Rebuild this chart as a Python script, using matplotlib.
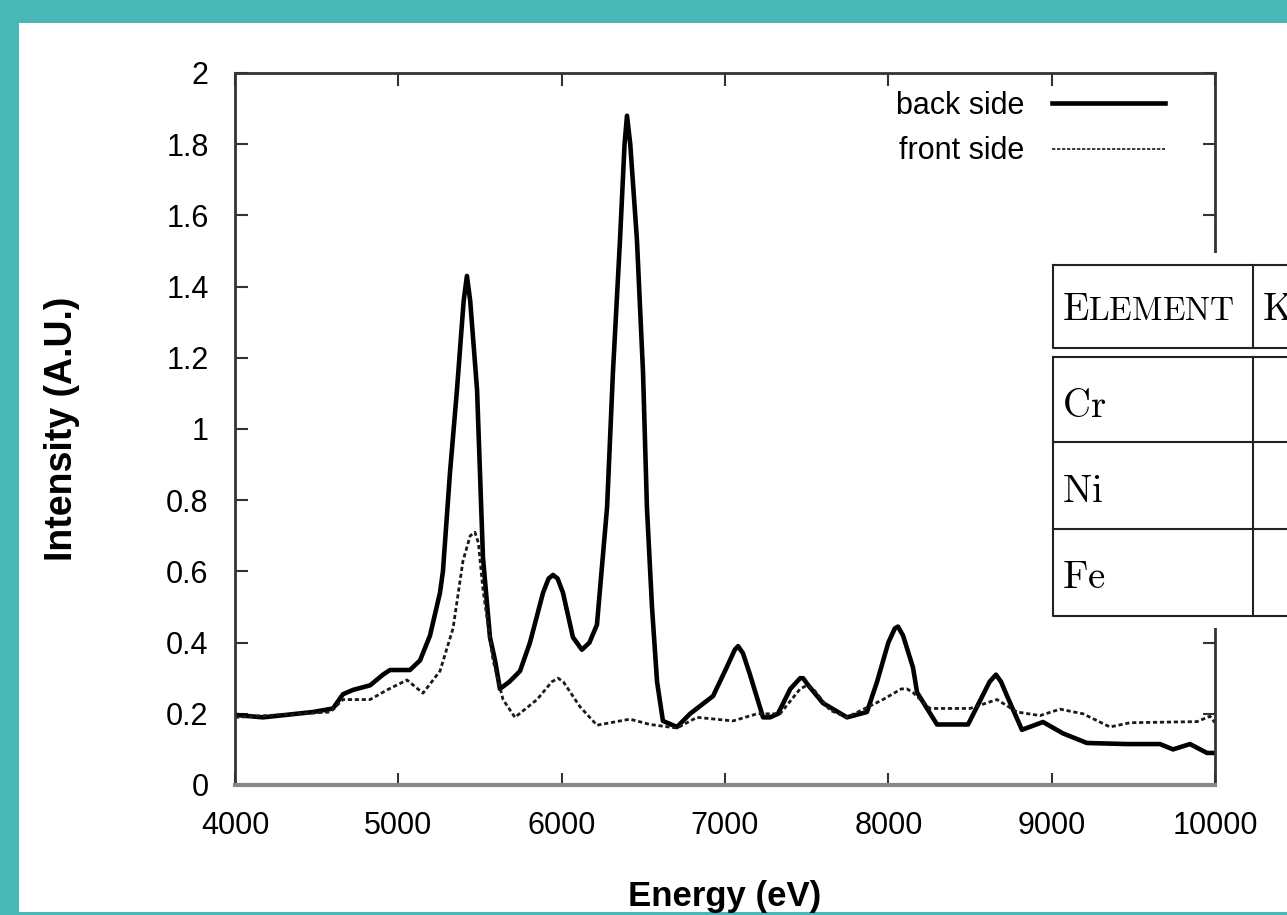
import matplotlib
matplotlib.use('Agg')
import matplotlib.pyplot as plt
from matplotlib.patches import Rectangle

plt.rcParams['font.family'] = ['Liberation Sans', 'DejaVu Sans']
plt.rcParams['mathtext.fontset'] = 'cm'

# back side spectrum
back_energy = [4000, 4171, 4478, 4600, 4661, 4722, 4827, 4906, 4949, 5071, 5133,
               5194, 5255, 5273, 5316, 5359, 5400, 5420, 5440, 5482, 5500, 5518,
               5561, 5592, 5622, 5680, 5745, 5806, 5886, 5920, 5947, 5975, 6008,
               6069, 6124, 6170, 6216, 6278, 6314, 6357, 6385, 6400, 6420, 6461,
               6498, 6522, 6553, 6584, 6620, 6706, 6786, 6927, 7010, 7060, 7080,
               7110, 7153, 7233, 7276, 7324, 7400, 7460, 7478, 7510, 7600, 7747,
               7869, 7931, 8000, 8040, 8059, 8090, 8151, 8176, 8298, 8488, 8543,
               8620, 8659, 8690, 8727, 8818, 8947, 9069, 9216, 9461, 9663, 9743,
               9847, 9951, 10000]
back_intensity = [0.197, 0.19, 0.205, 0.215, 0.255, 0.267, 0.28, 0.31, 0.323, 0.323, 0.35,
                  0.42, 0.54, 0.6, 0.876, 1.11, 1.36, 1.43, 1.36, 1.11, 0.876, 0.64,
                  0.415, 0.35, 0.27, 0.29, 0.32, 0.40, 0.54, 0.58, 0.59, 0.58, 0.54,
                  0.415, 0.38, 0.40, 0.45, 0.78, 1.16, 1.53, 1.80, 1.88, 1.80, 1.53,
                  1.16, 0.78, 0.5, 0.29, 0.18, 0.163, 0.20, 0.25, 0.33, 0.38, 0.39,
                  0.37, 0.31, 0.19, 0.19, 0.20, 0.27, 0.30, 0.30, 0.28, 0.23, 0.19,
                  0.205, 0.29, 0.40, 0.44, 0.445, 0.42, 0.33, 0.26, 0.17, 0.17, 0.22,
                  0.29, 0.31, 0.29, 0.25, 0.155, 0.177, 0.145, 0.118, 0.115, 0.115, 0.10,
                  0.115, 0.09, 0.09]

# front side spectrum
front_energy = [4000, 4582, 4661, 4827, 4931, 5053, 5151, 5255, 5335, 5396, 5440,
                5469, 5490, 5518, 5580, 5641, 5714, 5849, 5940, 5978, 6010, 6112,
                6216, 6418, 6541, 6706, 6829, 7049, 7196, 7337, 7460, 7502, 7540,
                7643, 7747, 7967, 8080, 8114, 8150, 8255, 8500, 8665, 8788, 8929,
                9051, 9192, 9357, 9480, 9890, 9969, 10000]
front_intensity = [0.19, 0.205, 0.24, 0.24, 0.267, 0.295, 0.258, 0.32, 0.44, 0.63, 0.70,
                   0.71, 0.68, 0.55, 0.35, 0.24, 0.19, 0.24, 0.29, 0.30, 0.29, 0.22,
                   0.168, 0.185, 0.17, 0.16, 0.19, 0.18, 0.20, 0.20, 0.27, 0.28, 0.27,
                   0.21, 0.19, 0.24, 0.27, 0.27, 0.26, 0.215, 0.215, 0.24, 0.205, 0.195,
                   0.213, 0.20, 0.163, 0.175, 0.178, 0.193, 0.175]

x_ticks = [4000, 5000, 6000, 7000, 8000, 9000, 10000]
y_ticks = [0, 0.2, 0.4, 0.6, 0.8, 1, 1.2, 1.4, 1.6, 1.8, 2]

table_rows = ['Cr', 'Ni', 'Fe']

W, H = 1287, 915
fig = plt.figure(figsize=(W / 100, H / 100), dpi=100, facecolor='#47b8b6')
fig.patches.append(Rectangle((19 / W, 3 / H), (W - 19) / W, (912 - 23) / H,
                             transform=fig.transFigure, facecolor='white',
                             edgecolor='none', zorder=-10))

ax = fig.add_axes([235 / W, (H - 785) / H, (1215 - 235) / W, (785 - 73) / H], zorder=1)
ax.set_facecolor('white')
ax.plot(back_energy, back_intensity, color='black', lw=3.3, label='back side')
ax.plot(front_energy, front_intensity, color='#1a1a1a', lw=2.0, dashes=(1.5, 1.0),
        label='front side')
ax.set_xlim(4000, 10000)
ax.set_ylim(0, 2)
ax.set_xticks(x_ticks)
ax.set_yticks(y_ticks)
ax.set_yticklabels(['%g' % v for v in y_ticks])
ax.tick_params(direction='in', length=9, width=1.5, labelsize=22, pad=19,
               top=True, right=True, colors='#333333', labelcolor='black')
for s in ['left', 'top', 'right']:
    ax.spines[s].set_linewidth(2)
    ax.spines[s].set_color('#333333')
ax.spines['bottom'].set_linewidth(3)
ax.spines['bottom'].set_color('#888888')
ax.set_xlabel('Energy (eV)', fontsize=25, fontweight='bold', labelpad=28)
ax.set_ylabel('Intensity (A.U.)', fontsize=27, fontweight='bold', labelpad=62)

leg = ax.legend(loc='upper right', bbox_to_anchor=(1165 / W, (H - 91) / H),
                bbox_transform=fig.transFigure, frameon=False, markerfirst=False,
                fontsize=22, handlelength=3.7, handletextpad=0.9, labelspacing=0.5,
                borderpad=0, borderaxespad=0)
leg.get_lines()[1].set_linewidth(1.2)
leg.get_lines()[1].set_dashes((2, 1))

# table drawn on top, in figure pixel coordinates
ov = fig.add_axes([0, 0, 1, 1], zorder=5)
ov.set_xlim(0, W)
ov.set_ylim(H, 0)
ov.axis('off')
ov.add_patch(Rectangle((1040, 253), 260, 375, facecolor='white', edgecolor='none'))
lc = '#222222'
for y0, y1 in [(265, 348), (357, 616)]:
    ov.plot([1053, 1300, 1300, 1053, 1053], [y0, y0, y1, y1, y0], color=lc, lw=1.5)
for y in [442, 529]:
    ov.plot([1053, 1300], [y, y], color=lc, lw=1.5)
ov.plot([1253, 1253], [265, 348], color=lc, lw=1.5)
ov.plot([1253, 1253], [357, 616], color=lc, lw=1.5)
ov.text(1062, 320, r'$\mathrm{E}$', fontsize=28, va='baseline', ha='left')
ov.text(1088, 320, r'$\mathrm{LEMENT}$', fontsize=24, va='baseline', ha='left')
ov.text(1262, 320, r'$\mathrm{K}$', fontsize=28, va='baseline', ha='left')
for name, yb in zip(table_rows, [417, 502, 588]):
    ov.text(1062, yb, r'$\mathrm{%s}$' % name, fontsize=28, va='baseline', ha='left')

fig.savefig('out.png', dpi=100, facecolor=fig.get_facecolor())
